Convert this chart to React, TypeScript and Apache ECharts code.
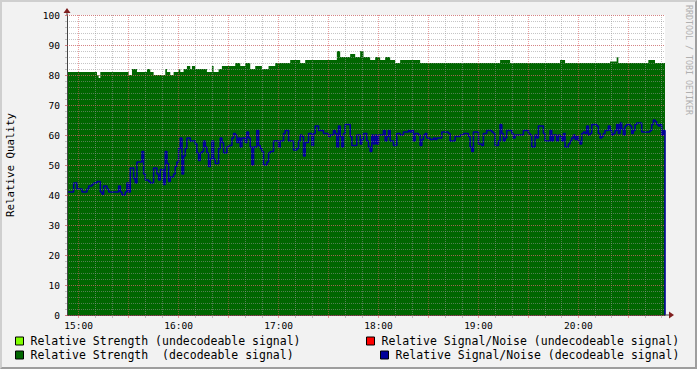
import React, { useEffect, useRef } from 'react';
import * as echarts from 'echarts';

const FONT = '"DejaVu Sans Mono", monospace';
const START_MIN = -7; // minutes relative to 15:00
const END_MIN = 352;

// Relative Signal/Noise (decodeable) — change points (minutes after 15:00) and values
const snrTimes = [-7, -3, -1, 2, 5, 6, 8, 9, 11, 13, 14, 15, 17, 18, 24, 25, 26, 28, 29, 30, 31, 33, 34, 35, 38, 39, 40, 42, 43, 45, 47, 48, 49, 51, 52, 53, 54, 55, 57, 58, 59, 60, 61, 62, 63, 64, 65, 67, 70, 71, 72, 73, 74, 75, 76, 77, 78, 79, 80, 81, 82, 84, 85, 86, 87, 89, 90, 92, 93, 94, 95, 96, 97, 98, 100, 101, 102, 103, 104, 105, 107, 108, 109, 110, 111, 113, 114, 115, 117, 120, 121, 123, 124, 126, 129, 131, 132, 133, 134, 135, 136, 138, 140, 141, 142, 144, 147, 150, 151, 153, 154, 155, 156, 157, 158, 159, 160, 163, 164, 167, 169, 170, 171, 173, 174, 175, 176, 177, 178, 179, 180, 183, 184, 185, 186, 187, 189, 191, 193, 195, 198, 199, 200, 201, 202, 204, 205, 206, 207, 208, 209, 211, 213, 214, 215, 218, 222, 223, 226, 229, 231, 234, 235, 236, 237, 240, 242, 243, 245, 248, 249, 250, 252, 253, 254, 255, 256, 257, 260, 261, 262, 267, 270, 271, 272, 274, 275, 276, 279, 280, 283, 284, 285, 287, 288, 289, 290, 291, 292, 294, 295, 296, 297, 298, 299, 300, 301, 302, 303, 304, 305, 306, 307, 308, 311, 312, 313, 314, 315, 316, 318, 319, 320, 321, 322, 323, 324, 325, 326, 327, 328, 329, 331, 332, 333, 334, 335, 338, 343, 344, 345, 346, 347, 348, 349, 350, 351, 352];
const snrValues = [41, 44, 42, 41, 42, 43, 43.5, 44, 44.5, 41, 40.3, 43, 42, 41, 43, 41, 40, 41, 44, 41, 49, 45.5, 44, 51, 54.5, 47, 45, 44.5, 44, 49, 47, 45, 48.5, 43.5, 54.5, 50.5, 44.5, 46, 47, 49.5, 51, 55.5, 59, 47, 53, 55.5, 59, 58, 57, 54, 51.5, 54, 54.5, 58, 56, 54, 49.5, 52, 58, 52, 50.5, 55.5, 59, 57.5, 54, 56, 56.5, 59, 60.5, 60, 57.5, 59, 56, 59, 57.5, 61, 59, 56, 50, 56, 61.5, 56.5, 55.5, 54.5, 50, 51, 54, 54.5, 58, 56, 58, 60.5, 61.5, 58, 55, 55.5, 58, 60, 59.5, 53, 57.5, 60.5, 56.5, 60.5, 63, 61.5, 60.5, 59.5, 60, 61.5, 60.5, 56, 63, 59.5, 56, 60.5, 63.5, 59.5, 56.5, 60, 57, 58.5, 60.5, 58, 56, 54.5, 60, 57, 60, 57, 60, 61.5, 58, 59.5, 61.5, 58, 56.5, 60.5, 60, 61, 61.5, 61, 61.5, 58, 60.5, 60, 56.5, 58.5, 60, 60.5, 59, 58.5, 59, 58.5, 59, 61, 60.5, 58, 59.5, 60, 60.5, 59.5, 56, 54.5, 61, 57, 56.5, 60.5, 61.5, 61, 60.5, 56.5, 58, 63.5, 60.5, 58, 59, 61.5, 60.5, 59, 60, 61.5, 60.5, 60, 56, 60, 59, 63, 60.5, 58, 61.5, 58, 60, 58, 60, 59.5, 58, 60.5, 56, 57, 58, 59, 60, 58.5, 59.5, 58, 57, 60.5, 61, 60.5, 63, 60, 60.5, 63.5, 63, 60.5, 59, 59.5, 60.5, 61.5, 63, 61.5, 60, 60.5, 61.5, 63.5, 60.5, 64, 62, 60, 63, 63.5, 63, 60.5, 61.5, 63.5, 64, 61, 61.5, 63.5, 65, 64.5, 63.5, 63, 63.5, 60, 61.5, 0];

// Relative Strength (decodeable) — change points and values
const strTimes = [-7, 11, 12, 13, 30, 32, 35, 41, 43, 45, 52, 53, 55, 57, 60, 61, 63, 65, 67, 68, 70, 77, 80, 81, 84, 86, 94, 97, 100, 103, 106, 110, 114, 118, 127, 133, 136, 155, 157, 163, 166, 169, 171, 175, 178, 181, 184, 187, 190, 193, 205, 253, 259, 289, 292, 319, 323, 324, 342, 346, 352];
const strValues = [81, 80, 79, 81, 80, 82, 81, 82, 81, 80, 82, 81, 80, 81, 82, 81, 82, 83, 82, 83, 82, 81, 83, 81, 82, 83, 84, 83, 84, 82, 83, 82, 83, 84, 85, 84, 85, 88, 86, 87, 86, 88, 86, 85, 86, 85, 86, 85, 84, 85, 84, 85, 84, 85, 84, 84.5, 86, 84, 85, 84, 0];

const yTicks = [0, 10, 20, 30, 40, 50, 60, 70, 80, 90, 100];

const NAME_RS_U = 'Relative Strength (undecodeable signal)';
const NAME_SN_U = 'Relative Signal/Noise (undecodeable signal)';
const NAME_RS_D = 'Relative Strength  (decodeable signal)';
const NAME_SN_D = 'Relative Signal/Noise (decodeable signal)';

function fmt(m: number): string {
  const t = 15 * 60 + m;
  const h = Math.floor(t / 60);
  const mm = ((t % 60) + 60) % 60;
  return String(h).padStart(2, '0') + ':' + String(mm).padStart(2, '0');
}

const categories: string[] = [];
for (let m = START_MIN; m <= END_MIN; m++) categories.push(fmt(m));

const toData = (times: number[], vals: number[]) => times.map((t, i) => [t - START_MIN, vals[i]]);

const GRID_GRAY = 'rgba(150,150,150,0.55)';
const GRID_RED = 'rgba(222,79,79,0.55)';

export default function App() {
  const ref = useRef<HTMLDivElement>(null);
  useEffect(() => {
    const chart = echarts.init(ref.current!, null, { renderer: 'svg' });
    const mod = (a: number, b: number) => ((a % b) + b) % b;
    const isMinor = (idx: number) => {
      const m = idx + START_MIN;
      return mod(m, 10) === 0 && mod(m, 30) !== 0;
    };
    const isMajor = (idx: number) => mod(idx + START_MIN, 30) === 0;
    const isLabel = (idx: number) => mod(idx + START_MIN, 60) === 0;
    const legendCommon = {
      icon: 'rect',
      itemWidth: 8,
      itemHeight: 8,
      padding: 0,
      itemGap: 0,
      selectedMode: false,
      itemStyle: { borderColor: '#000', borderWidth: 1 },
      textStyle: { fontFamily: FONT, fontSize: 11.5, color: '#000', padding: [0, 0, 0, 2], lineHeight: 12 },
    };
    chart.setOption({
      animation: false,
      backgroundColor: '#f2f2f2',
      grid: {
        left: 67,
        right: 32,
        top: 15,
        bottom: 54,
        show: true,
        backgroundColor: '#ffffff',
        borderWidth: 0,
        containLabel: false,
        outerBoundsMode: 'none',
      },
      legend: [
        { ...legendCommon, data: [NAME_RS_U], left: 15, top: 335 },
        { ...legendCommon, data: [NAME_RS_D], left: 15, top: 349 },
        { ...legendCommon, data: [NAME_SN_U], left: 366, top: 335 },
        { ...legendCommon, data: [NAME_SN_D], left: 380, top: 349 },
      ],
      xAxis: [
        {
          type: 'category',
          data: categories,
          boundaryGap: false,
          position: 'bottom',
          z: 10,
          axisLine: { show: true, lineStyle: { color: '#444', width: 1 } },
          axisTick: { show: true, interval: (i: number) => isMinor(i), length: 3, lineStyle: { color: GRID_GRAY } },
          axisLabel: {
            interval: (i: number) => isLabel(i),
            fontFamily: FONT,
            fontSize: 9.5,
            color: '#000',
            margin: 5,
          },
          splitLine: { show: true, interval: (i: number) => isMinor(i), lineStyle: { color: GRID_GRAY, type: [1, 1], width: 1 } },
        },
        {
          type: 'category',
          data: categories,
          boundaryGap: false,
          position: 'bottom',
          z: 11,
          axisLine: { show: false },
          axisTick: { show: true, interval: (i: number) => isMajor(i), length: 3, lineStyle: { color: GRID_RED } },
          axisLabel: { show: false },
          splitLine: { show: true, interval: (i: number) => isMajor(i), lineStyle: { color: GRID_RED, type: [1, 1], width: 1 } },
        },
      ],
      yAxis: [
        {
          type: 'value',
          min: 0,
          max: 100,
          interval: 2,
          position: 'left',
          z: 10,
          name: 'Relative Quality',
          nameLocation: 'middle',
          nameGap: 51,
          nameTextStyle: { fontFamily: FONT, fontSize: 10.8, color: '#000' },
          axisLine: { show: true, lineStyle: { color: '#444', width: 1 } },
          axisTick: { show: true, length: 2, lineStyle: { color: GRID_GRAY } },
          axisLabel: {
            fontFamily: FONT,
            fontSize: 9.5,
            color: '#000',
            margin: 7,
            formatter: (v: number) => (yTicks.indexOf(v) >= 0 ? String(v) : ''),
          },
          splitLine: { show: true, lineStyle: { color: GRID_GRAY, type: [1, 1], width: 1 } },
        },
        {
          type: 'value',
          min: 0,
          max: 100,
          interval: 10,
          position: 'left',
          z: 11,
          axisLine: { show: false },
          axisTick: { show: true, length: 2, lineStyle: { color: GRID_RED } },
          axisLabel: { show: false },
          splitLine: { show: true, lineStyle: { color: GRID_RED, type: [1, 1], width: 1 } },
        },
      ],
      series: [
        { name: NAME_RS_U, type: 'line', color: '#80ff00', data: [] },
        { name: NAME_SN_U, type: 'line', color: '#ff0000', data: [] },
        {
          name: NAME_RS_D,
          type: 'line',
          color: '#006600',
          step: 'end',
          symbol: 'none',
          lineStyle: { width: 0 },
          areaStyle: { color: '#006600', opacity: 1 },
          data: toData(strTimes, strValues),
          z: 2,
        },
        {
          name: NAME_SN_D,
          type: 'line',
          color: '#000099',
          step: 'end',
          symbol: 'none',
          lineStyle: { width: 1.6, color: '#000099' },
          data: toData(snrTimes, snrValues),
          z: 3,
        },
      ],
      graphic: [
        { type: 'line', shape: { x1: 67, y1: 15, x2: 67, y2: 9 }, style: { stroke: '#444', lineWidth: 1 }, z: 100 },
        { type: 'polygon', shape: { points: [[63.5, 13], [70.5, 13], [67, 8]] }, style: { fill: '#801f1f' }, z: 101 },
        { type: 'line', shape: { x1: 665, y1: 315, x2: 671, y2: 315 }, style: { stroke: '#444', lineWidth: 1 }, z: 100 },
        { type: 'polygon', shape: { points: [[669, 311.5], [669, 318.5], [674, 315]] }, style: { fill: '#801f1f' }, z: 101 },
        {
          type: 'text',
          x: 688.5,
          y: 5,
          rotation: -Math.PI / 2,
          style: { text: 'RRDTOOL / TOBI OETIKER', fill: '#b0b0b0', font: '8.3px "DejaVu Sans Mono", monospace', verticalAlign: 'middle', align: 'left' },
          z: 100,
        },
      ],
    });
    return () => chart.dispose();
  }, []);
  return (
    <div style={{ position: 'absolute', left: 0, top: 0, width: 697, height: 369, background: '#f2f2f2' }}>
      <div ref={ref} style={{ width: 697, height: 369 }} />
      <div
        style={{
          position: 'absolute',
          left: 0,
          top: 0,
          width: 697,
          height: 369,
          boxSizing: 'border-box',
          borderTop: '2px solid #cfcfcf',
          borderLeft: '2px solid #cfcfcf',
          borderRight: '2px solid #9e9e9e',
          borderBottom: '2px solid #9e9e9e',
          pointerEvents: 'none',
        }}
      />
    </div>
  );
}
